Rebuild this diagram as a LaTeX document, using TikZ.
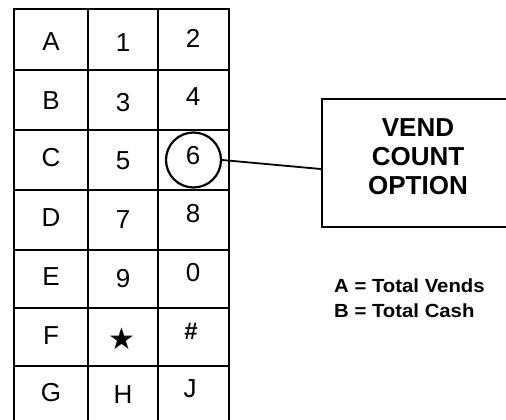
\documentclass[tikz,border=0pt]{standalone}
\usepackage{fontspec}
\setmainfont{Liberation Sans}
\newfontfamily\symfont{DejaVu Sans}
\usetikzlibrary{calc}
\begin{document}
\begin{tikzpicture}[x=1pt,y=-1pt,
  gridline/.style={draw=black, line width=2.3pt},
  keytext/.style={font=\fontsize{26}{26}\selectfont, inner sep=0pt},
  callout/.style={draw=black, line width=2.2pt, inner sep=0pt},
  ring/.style={draw=black, circle, line width=2.2pt, minimum size=55pt, inner sep=0pt},
  link/.style={draw=black, line width=1.8pt},
  bigtext/.style={font=\bfseries\fontsize{26}{29}\selectfont, align=center, inner sep=0pt},
  legend/.style={font=\bfseries\fontsize{19}{25}\selectfont, align=left, inner sep=0pt, anchor=west, xscale=1.07}
]
\useasboundingbox (0,0) rectangle (506,420);
\clip (0,0) rectangle (506,420);
\fill[white] (0,0) rectangle (506,420);
% grid cells
\def\xa{14}\def\xb{88}\def\xc{158}\def\xd{229}
\foreach \ya/\yb/\i in {9/70/1,70/130/2,130/190/3,190/250/4,250/308/5,308/366/6,366/426/7}{
  \draw[gridline] (\xa,\ya) rectangle (\xb,\yb);
  \draw[gridline] (\xb,\ya) rectangle (\xc,\yb);
  \draw[gridline] (\xc,\ya) rectangle (\xd,\yb);
}
% texts
\node[keytext] (kA) at (51,42) {A};
\node[keytext] (k1) at (123,43) {1};
\node[keytext] (k2) at (193,38) {2};
\node[keytext] (kB) at (51,101) {B};
\node[keytext] (k3) at (123,103) {3};
\node[keytext] (k4) at (193,97) {4};
\node[keytext] (kC) at (51,158) {C};
\node[keytext] (k5) at (123,161) {5};
\node[keytext] (k6) at (193,156) {6};
\node[keytext] (kD) at (51,218) {D};
\node[keytext] (k7) at (123,220) {7};
\node[keytext] (k8) at (193,214) {8};
\node[keytext] (kE) at (51,277) {E};
\node[keytext] (k9) at (123,279) {9};
\node[keytext] (k0) at (193,273) {0};
\node[keytext] (kF) at (51,336) {F};
\node[keytext,font=\symfont\fontsize{30}{30}\selectfont] (kstar) at (122,339) {★};
\node[keytext,font=\bfseries\fontsize{24}{24}\selectfont] (khash) at (191,331) {\#};
\node[keytext] (kG) at (51,393) {G};
\node[keytext] (kH) at (123,395) {H};
\node[keytext] (kJ) at (190,389) {J};
% circle around 6
\node[ring] (circ) at (193.5,160) {};
% callout box
\node[callout, minimum width=192pt, minimum height=128pt] (box) at (418,163) {};
\node[bigtext] (boxtext) at (418,157) {VEND\\COUNT\\OPTION};
\draw[link] (circ.east) -- ($(box.west)+(0,6)$);
% legend
\node[legend] (leg) at (334,298) {A = Total Vends\\B = Total Cash};
\end{tikzpicture}
\end{document}
